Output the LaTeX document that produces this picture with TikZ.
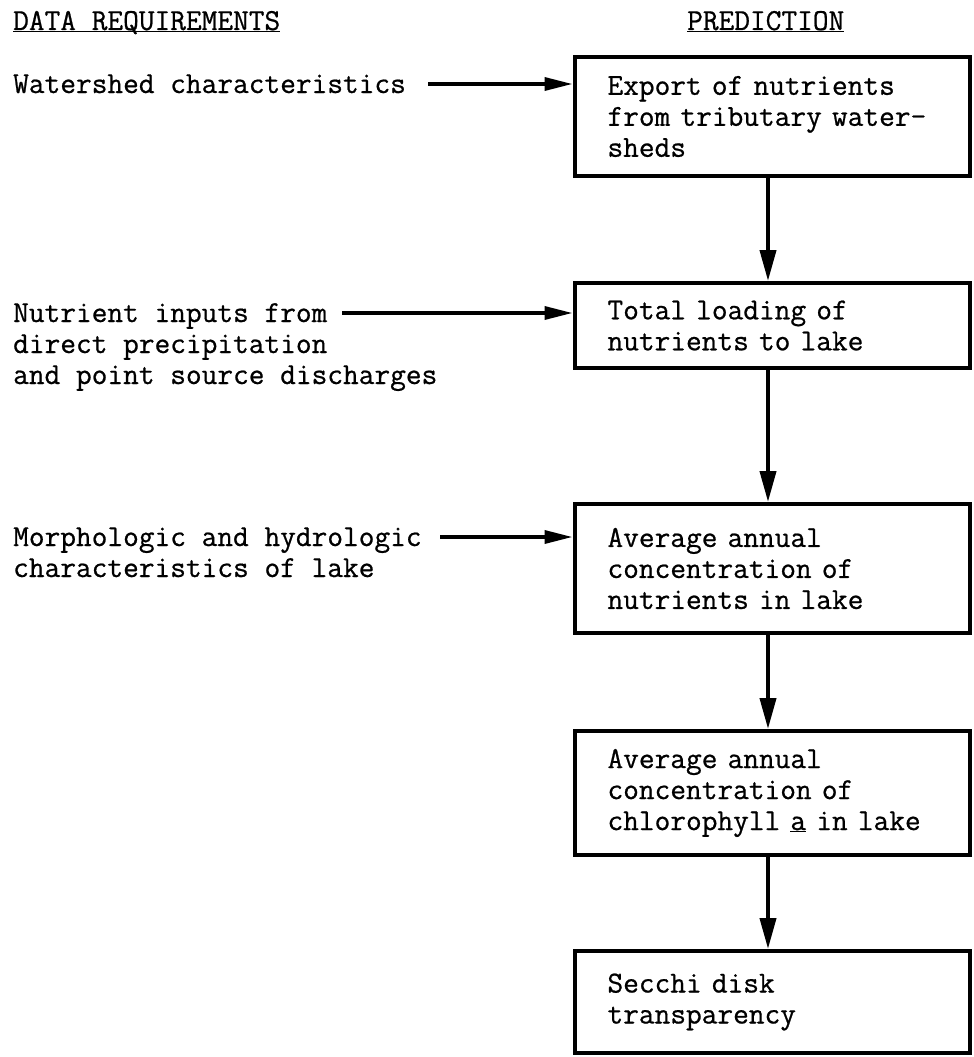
\documentclass[tikz,border=0pt]{standalone}
\usepackage{fontspec}
\newfontfamily\typew{Latin Modern Mono}[FakeBold=0.7]
\usetikzlibrary{arrows.meta}
\begin{document}
\begin{tikzpicture}[x=1pt,y=-1pt,
  every node/.style={font=\typew\fontsize{30.5}{31}\selectfont, inner sep=0pt},
  box/.style={draw, line width=4pt, minimum width=395pt, text width=329pt, inner xsep=33pt, inner ysep=0pt, align=left},
  leftlabel/.style={anchor=base west, align=left},
  harrow/.style={line width=3.5pt, -{Triangle[length=28pt,width=13pt]}},
  varrow/.style={line width=4pt, -{Triangle[length=31pt,width=16pt]}}
]
\useasboundingbox (0,0) rectangle (974,1057);

% headings
\node[anchor=base west] (h1) at (13,30) {\underline{\smash{DATA REQUIREMENTS}}};
\node[anchor=base west] (h2) at (687,30) {\underline{\smash{PREDICTION}}};

% data requirements (base anchor = baseline of the last line)
\node[leftlabel] (l1) at (13,93) {Watershed characteristics};
\node[leftlabel] (l2) at (13,384) {Nutrient inputs from\\direct precipitation\\and point source discharges};
\node[leftlabel] (l3) at (13,577) {Morphologic and hydrologic\\characteristics of lake};

% prediction boxes
\node[box, minimum height=119pt] (b1) at (772,116.5) {Export of nutrients\\from tributary water-\\sheds};
\node[box, minimum height=85pt] (b2) at (772,325.5) {Total loading of\\nutrients to lake};
\node[box, minimum height=129pt] (b3) at (772,568.5) {Average annual\\concentration of\\nutrients in lake};
\node[box, minimum height=124pt] (b4) at (772,793) {Average annual\\concentration of\\chlorophyll \underline{a} in lake};
\node[box, minimum height=102pt] (b5) at (772,1002) {Secchi disk\\transparency};

% horizontal connectors
\coordinate (s1) at (428,84);
\coordinate (s2) at (342,313);
\coordinate (s3) at (440,537);
\draw[harrow] (s1) -- (s1 -| b1.west);
\draw[harrow] (s2) -- (s2 -| b2.west);
\draw[harrow] (s3) -- (s3 -| b3.west);

% vertical connectors
\coordinate (ax) at (768,0);
\draw[varrow] (b1.south -| ax) -- (b2.north -| ax);
\draw[varrow] (b2.south -| ax) -- (b3.north -| ax);
\draw[varrow] (b3.south -| ax) -- (b4.north -| ax);
\draw[varrow] (b4.south -| ax) -- (b5.north -| ax);
\end{tikzpicture}
\end{document}
